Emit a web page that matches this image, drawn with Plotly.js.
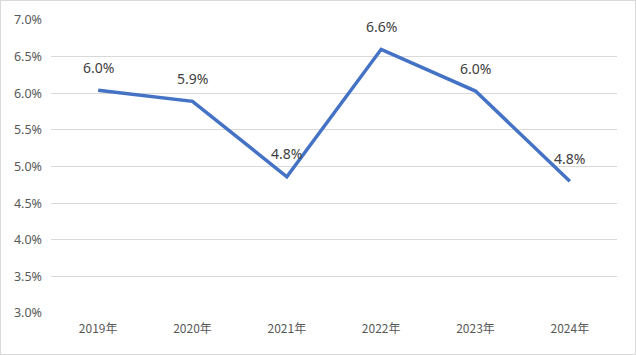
<!DOCTYPE html>
<html>
<head>
<meta charset="utf-8">
<script src="https://cdn.plot.ly/plotly-3.0.1.min.js"></script>
<style>
html,body{margin:0;padding:0;background:#fff;}
#chart{width:634px;height:353px;border:1px solid #d9d9d9;}
</style>
</head>
<body>
<div id="chart"></div>
<script>
const categories = ['2019年','2020年','2021年','2022年','2023年','2024年'];
const values = [6.04, 5.89, 4.86, 6.60, 6.03, 4.80];
const labels = ['6.0%','5.9%','4.8%','6.6%','6.0%','4.8%'];
const yTickVals = [3.0,3.5,4.0,4.5,5.0,5.5,6.0,6.5,7.0];
const yTickText = ['3.0%','3.5%','4.0%','4.5%','5.0%','5.5%','6.0%','6.5%','7.0%'];

const trace = {
  x: categories,
  y: values,
  type: 'scatter',
  mode: 'lines',
  line: {color: '#4472C4', width: 3.5},
  hoverinfo: 'skip'
};

const annotations = categories.map((c, i) => ({
  x: c, y: values[i], xref: 'x', yref: 'y',
  text: labels[i], showarrow: false, yshift: 23,
  font: {family: 'Noto Sans, sans-serif', size: 14, color: '#404040'}
}));

const layout = {
  width: 634, height: 353,
  margin: {l: 50, r: 18, t: 19, b: 41, pad: 0},
  paper_bgcolor: '#ffffff',
  plot_bgcolor: '#ffffff',
  showlegend: false,
  font: {family: 'Noto Sans CJK SC, Noto Sans, sans-serif', size: 12, color: '#595959'},
  xaxis: {
    type: 'category',
    range: [-0.5, 5.5],
    showgrid: false, zeroline: false, showline: false,
    ticks: 'outside', ticklen: 5, tickcolor: 'rgba(0,0,0,0)',
    tickfont: {family: 'Noto Sans CJK SC, sans-serif', size: 12, color: '#595959'}
  },
  yaxis: {
    range: [3, 7],
    tickmode: 'array',
    tickvals: yTickVals,
    ticktext: yTickText,
    showgrid: true, gridcolor: '#d9d9d9', gridwidth: 1,
    zeroline: false, showline: false,
    ticks: '', ticklabelstandoff: 8,
    tickfont: {family: 'Noto Sans, sans-serif', size: 12.5, color: '#595959'}
  },
  annotations: annotations
};

Plotly.newPlot('chart', [trace], layout, {displayModeBar: false, staticPlot: true});
</script>
</body>
</html>
